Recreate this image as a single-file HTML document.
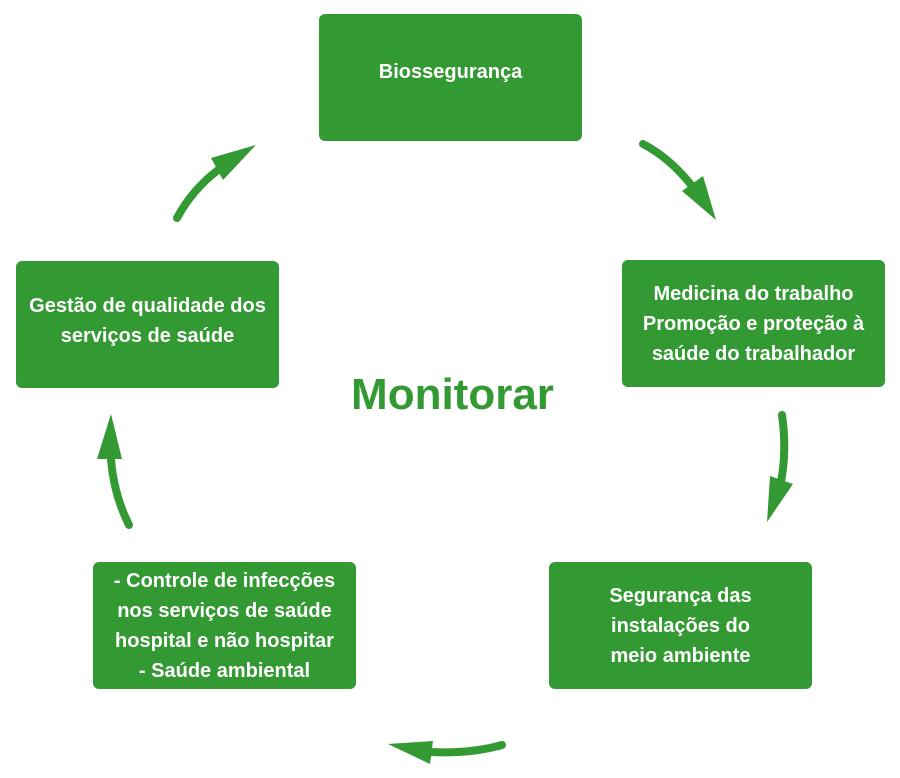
<!DOCTYPE html>
<html><head><meta charset="utf-8"><style>
body{margin:0;background:#fff;width:900px;height:778px;position:relative;overflow:hidden;font-family:"Liberation Sans",sans-serif}
.b{position:absolute;background:#339933;border-radius:6px;color:#fff;font-weight:bold;font-size:20px;line-height:30px;display:flex;align-items:center;justify-content:center;text-align:center;box-sizing:border-box;width:263px;height:127px;white-space:nowrap}
.m{position:absolute;left:300px;top:370px;width:305px;text-align:center;color:#339933;font-weight:bold;font-size:44px}
</style></head><body>
<div class="b" style="left:319px;top:14px;align-items:flex-start;padding-top:43px">Biossegurança</div>
<div class="b" style="left:622px;top:260px">Medicina do trabalho<br>Promoção e proteção à<br>saúde do trabalhador</div>
<div class="b" style="left:549px;top:562px">Segurança das<br>instalações do<br>meio ambiente</div>
<div class="b" style="left:93px;top:562px">- Controle de infecções<br>nos serviços de saúde<br>hospital e não hospitar<br>- Saúde ambiental</div>
<div class="b" style="left:16px;top:261px;align-items:flex-start;padding-top:30px">Gestão de qualidade dos<br>serviços de saúde</div>
<div class="m">Monitorar</div>
<svg width="900" height="778" style="position:absolute;left:0;top:0">
<g fill="none" stroke="#339933" stroke-width="8" stroke-linecap="round">
<path d="M643 144 Q670 158 692 186"/>
<path d="M782 415 Q787 450 781 482"/>
<path d="M502 745 Q470 754 430 752"/>
<path d="M129 525 Q114 495 111 460"/>
<path d="M177 218 Q192 190 218 170"/>
</g>
<g fill="#339933">
<polygon points="682,191 703,176 716,220"/>
<polygon points="770,476 793,484 767,522"/>
<polygon points="433,741 430,764 388,744"/>
<polygon points="97,459 122,459 111,414"/>
<polygon points="211,158 223,180 256,145"/>
</g>
</svg>
</body></html>
